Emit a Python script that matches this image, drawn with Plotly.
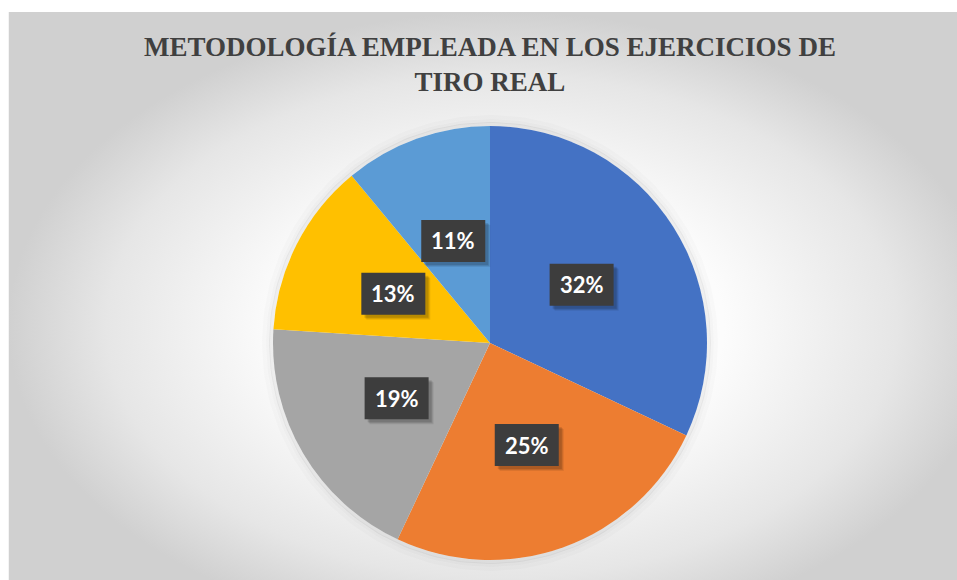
import math
import numpy as np
import plotly.graph_objects as go

# ---- data ----
categories = ["Categoría A", "Categoría B", "Categoría C", "Categoría D", "Categoría E"]
values = [32, 25, 19, 13, 11]
labels = ["32%", "25%", "19%", "13%", "11%"]
colors = ["#4472C4", "#ED7D31", "#A5A5A5", "#FFC000", "#5B9BD5"]
title_text = "METODOLOGÍA EMPLEADA EN LOS EJERCICIOS DE<br>TIRO REAL"

# ---- layout constants (pixels) ----
W, H = 957, 580
CX, CY, R = 490, 343, 217
BOX_W, BOX_H = 64, 42

fig = go.Figure()

# background panel with radial gradient
fig.add_trace(go.Scatter(
    x=[8, 995, 995, 8, 8], y=[12, 12, 640, 640, 12],
    mode="lines", line=dict(width=0), fill="toself",
    fillgradient=dict(type="radial",
                      colorscale=[[0, "#ffffff"], [0.45, "#fcfcfc"], [0.8, "#e6e6e6"], [1, "#d0d0d0"]]),
    hoverinfo="skip", showlegend=False))
# left light border
fig.add_trace(go.Scatter(x=[8.5, 8.5], y=[12, 580], mode="lines",
                         line=dict(color="#f4f4f4", width=1), hoverinfo="skip", showlegend=False))
# soft halo around pie
t = np.linspace(0, 2 * np.pi, 240)
for rr, a in [(R + 2, 0.05), (R + 5, 0.03), (R + 9, 0.015)]:
    fig.add_trace(go.Scatter(x=CX + rr * np.cos(t), y=CY + rr * np.sin(t), mode="lines",
                             line=dict(color=f"rgba(0,0,0,{a})", width=4),
                             hoverinfo="skip", showlegend=False))

fig.add_trace(go.Pie(
    labels=categories, values=values, sort=False, direction="clockwise", rotation=0,
    marker=dict(colors=colors, line=dict(width=0)), textinfo="none", showlegend=False,
    domain=dict(x=[(CX - R) / W, (CX + R) / W], y=[(H - CY - R) / H, (H - CY + R) / H])))

# data labels at half radius, mid-angle
total = sum(values)
cum = 0
annotations = []
shapes = []
for v, lab in zip(values, labels):
    mid = (cum + v / 2) / total * 2 * math.pi
    cum += v
    lx = CX + 0.5 * R * math.sin(mid)
    ly = CY - 0.5 * R * math.cos(mid)
    # drop shadow
    for d, a in [(5, 0.08), (4, 0.10), (3, 0.12)]:
        shapes.append(dict(type="rect", xref="x", yref="y", layer="above",
                           x0=lx - BOX_W / 2 + d, x1=lx + BOX_W / 2 + d,
                           y0=ly - BOX_H / 2 + d, y1=ly + BOX_H / 2 + d,
                           line=dict(width=0), fillcolor=f"rgba(0,0,0,{a})"))
    shapes.append(dict(type="rect", xref="x", yref="y", layer="above",
                       x0=lx - BOX_W / 2, x1=lx + BOX_W / 2,
                       y0=ly - BOX_H / 2, y1=ly + BOX_H / 2,
                       line=dict(width=0), fillcolor="#3d3d3d"))
    annotations.append(dict(x=lx, y=ly, xref="x", yref="y", text="<b>" + lab + "</b>", showarrow=False,
                            font=dict(family="Lato", size=22, color="#ffffff")))

annotations.append(dict(x=CX, y=64, xref="x", yref="y", text="<b>" + title_text + "</b>",
                        showarrow=False, xanchor="center", yanchor="middle",
                        font=dict(family="Liberation Serif", size=27, color="#404040")))

fig.update_layout(
    width=W, height=H, margin=dict(l=0, r=0, t=0, b=0),
    paper_bgcolor="#ffffff", plot_bgcolor="rgba(0,0,0,0)",
    xaxis=dict(range=[0, W], visible=False, fixedrange=True, domain=[0, 1]),
    yaxis=dict(range=[H, 0], visible=False, fixedrange=True, domain=[0, 1]),
    annotations=annotations, shapes=shapes,
)

fig.write_html("out.html", config={"displayModeBar": False},
               post_script="document.body.style.margin='0';document.body.style.overflow='hidden';")
